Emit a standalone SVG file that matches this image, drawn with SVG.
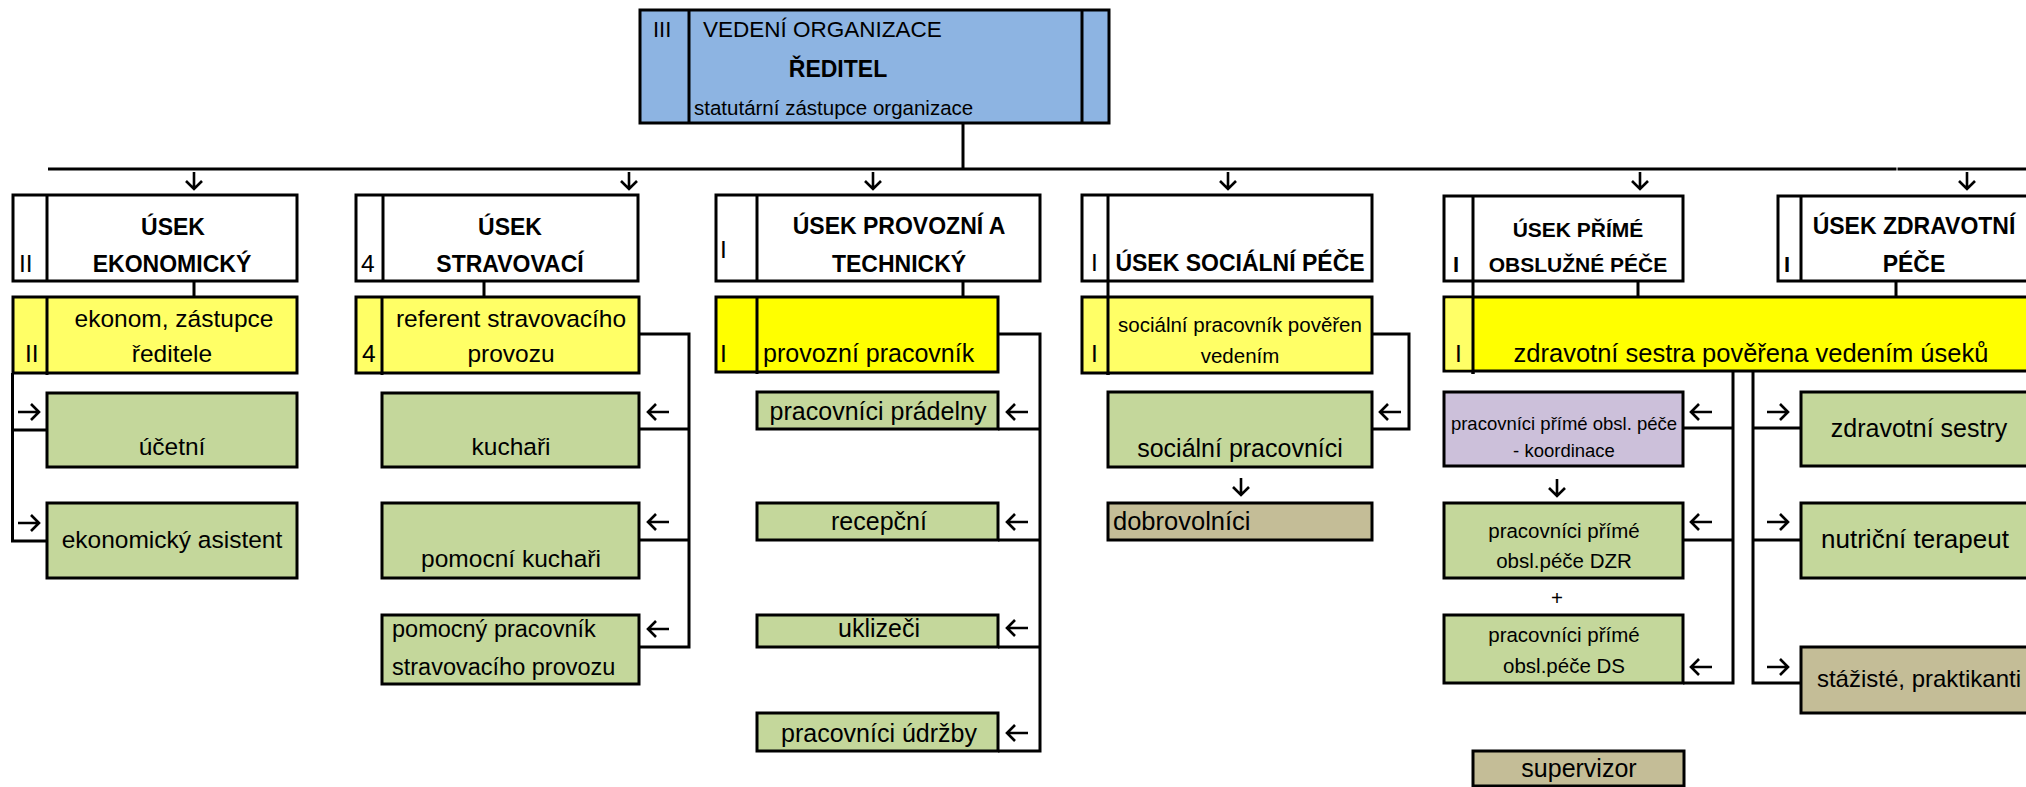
<svg xmlns="http://www.w3.org/2000/svg" xmlns:xlink="http://www.w3.org/1999/xlink" width="2026" height="787" viewBox="0 0 2026 787">
<style>
.bx{stroke:#000;stroke-width:3}
.wh{fill:#fff}.ly{fill:#FFFF66}.by{fill:#FFFF00}.gr{fill:#C4D79B}.pu{fill:#CCC0DA}.tn{fill:#C4BD97}.bl{fill:#8DB4E2}
.ln{stroke:#000;stroke-width:3;fill:none}
text{font-family:"Liberation Sans",Arial,sans-serif;fill:#000}
.t{font-size:24.5px}
.s{font-size:20.5px}
.xs{font-size:18.5px}
.h{font-size:23px;font-weight:bold}
.hs{font-size:21px;font-weight:bold}
.c{text-anchor:middle}
</style>
<defs>
<path id="aR" d="M-11,0 H10 M2,-8 L10,0 L2,8" stroke="#000" stroke-width="2.6" fill="none"/>
<path id="aL" d="M11,0 H-10 M-2,-8 L-10,0 L-2,8" stroke="#000" stroke-width="2.6" fill="none"/>
<path id="aD" d="M0,-9 V8 M-8,0 L0,8 L8,0" stroke="#000" stroke-width="2.6" fill="none"/>
</defs>
<rect width="2026" height="787" fill="#fff"/>

<g id="connectors">
<path class="ln" d="M963,123 V169"/>
<path class="ln" d="M48,169 H1896.5 M1897.5,169 H2026"/>
<path class="ln" d="M194,281 V297 M484,281 V297 M963,281 V297 M1638,281 V297 M1896,281 V297"/>
<path class="ln" d="M12.5,373 V541 H47 M12.5,430 H47"/>
<path class="ln" d="M639,334 H689 V647 H639 M689,429 H639 M689,540 H639"/>
<path class="ln" d="M998,334 H1040 V751 H998 M1040,429 H998 M1040,540 H998 M1040,647 H998"/>
<path class="ln" d="M1372,334 H1409 V429 H1372"/>
<path class="ln" d="M1733,371 V683 H1683 M1733,428 H1683 M1733,540 H1683"/>
<path class="ln" d="M1753,371 V683 H1801 M1753,428 H1801 M1753,540 H1801"/>
<use xlink:href="#aD" x="194" y="181"/>
<use xlink:href="#aD" x="629" y="181"/>
<use xlink:href="#aD" x="873" y="181"/>
<use xlink:href="#aD" x="1228" y="181"/>
<use xlink:href="#aD" x="1640" y="181"/>
<use xlink:href="#aD" x="1967" y="181"/>
<use xlink:href="#aR" x="29" y="412"/>
<use xlink:href="#aR" x="29" y="523"/>
<use xlink:href="#aL" x="658" y="412"/>
<use xlink:href="#aL" x="658" y="522"/>
<use xlink:href="#aL" x="658" y="629"/>
<use xlink:href="#aL" x="1017" y="412"/>
<use xlink:href="#aL" x="1017" y="522"/>
<use xlink:href="#aL" x="1017" y="628"/>
<use xlink:href="#aL" x="1017" y="733"/>
<use xlink:href="#aL" x="1390" y="412"/>
<use xlink:href="#aL" x="1701" y="412"/>
<use xlink:href="#aL" x="1701" y="522"/>
<use xlink:href="#aL" x="1701" y="667"/>
<use xlink:href="#aR" x="1778" y="412"/>
<use xlink:href="#aR" x="1778" y="522"/>
<use xlink:href="#aR" x="1778" y="667"/>
<use xlink:href="#aD" x="1241" y="487"/>
<use xlink:href="#aD" x="1557" y="488"/>
</g>

<g id="reditel">
<rect class="bx bl" x="640" y="10" width="469" height="113"/>
<path class="ln" d="M689,10 V123 M1082,10 V123"/>
<text x="653" y="37" style="font-size:22px">III</text>
<text x="703" y="37" style="font-size:22.5px">VEDENÍ ORGANIZACE</text>
<text class="c" x="838" y="77" style="font-size:23px;font-weight:bold">ŘEDITEL</text>
<text x="694" y="115" style="font-size:20.5px">statutární zástupce organizace</text>
</g>

<g id="usek-ekonomicky">
<rect class="bx wh" x="13" y="195" width="284" height="86"/>
<path class="ln" d="M47,195 V281"/>
<text class="t" x="19" y="272">II</text>
<text class="h c" x="173" y="235">ÚSEK</text>
<text class="h c" x="172" y="272">EKONOMICKÝ</text>
</g>
<g id="ekonom">
<rect class="bx ly" x="13" y="297" width="284" height="76"/>
<path class="ln" d="M47,297 V375"/>
<text class="t" x="25" y="362">II</text>
<text class="t c" x="174" y="327">ekonom, zástupce</text>
<text class="t c" x="172" y="362">ředitele</text>
</g>
<g id="ucetni">
<rect class="bx gr" x="47" y="393" width="250" height="74"/>
<text class="t c" x="172" y="455">účetní</text>
</g>
<g id="ekonomicky-asistent">
<rect class="bx gr" x="47" y="503" width="250" height="75"/>
<text class="t c" x="172" y="548">ekonomický asistent</text>
</g>

<g id="usek-stravovaci">
<rect class="bx wh" x="356" y="195" width="282" height="86"/>
<path class="ln" d="M383,195 V281"/>
<text class="t" x="361" y="272">4</text>
<text class="h c" x="510" y="235">ÚSEK</text>
<text class="h c" x="510" y="272">STRAVOVACÍ</text>
</g>
<g id="referent">
<rect class="bx ly" x="356" y="297" width="283" height="76"/>
<path class="ln" d="M382,297 V375"/>
<text class="t" x="362" y="362">4</text>
<text class="t c" x="511" y="327">referent stravovacího</text>
<text class="t c" x="511" y="362">provozu</text>
</g>
<g id="kuchari">
<rect class="bx gr" x="382" y="393" width="257" height="74"/>
<text class="t c" x="511" y="455">kuchaři</text>
</g>
<g id="pomocni-kuchari">
<rect class="bx gr" x="382" y="503" width="257" height="75"/>
<text class="t c" x="511" y="567">pomocní kuchaři</text>
</g>
<g id="pomocny-pracovnik">
<rect class="bx gr" x="382" y="615" width="257" height="69"/>
<text x="392" y="637" style="font-size:23.5px">pomocný pracovník</text>
<text x="392" y="675" style="font-size:23.5px">stravovacího provozu</text>
</g>

<g id="usek-provozni">
<rect class="bx wh" x="716" y="195" width="324" height="86"/>
<path class="ln" d="M757,195 V281"/>
<text class="t" x="720" y="258">I</text>
<text class="h c" x="899" y="234">ÚSEK PROVOZNÍ A</text>
<text class="h c" x="899" y="272">TECHNICKÝ</text>
</g>
<g id="provozni-pracovnik">
<rect class="bx by" x="716" y="297" width="282" height="75"/>
<path class="ln" d="M757,297 V374"/>
<text class="t" x="720" y="362">I</text>
<text x="763" y="362" style="font-size:25px">provozní pracovník</text>
</g>
<g id="pradelna">
<rect class="bx gr" x="757" y="392" width="241" height="37"/>
<text class="c" x="878" y="420" style="font-size:25px">pracovníci prádelny</text>
</g>
<g id="recepcni">
<rect class="bx gr" x="757" y="503" width="241" height="37"/>
<text class="c" x="879" y="530" style="font-size:25px">recepční</text>
</g>
<g id="uklizeci">
<rect class="bx gr" x="757" y="615" width="241" height="32"/>
<text class="c" x="879" y="637" style="font-size:25px">uklizeči</text>
</g>
<g id="udrzba">
<rect class="bx gr" x="757" y="713" width="241" height="38"/>
<text class="c" x="879" y="742" style="font-size:25px">pracovníci údržby</text>
</g>

<g id="usek-socialni">
<rect class="bx wh" x="1082" y="195" width="290" height="86"/>
<path class="ln" d="M1108,195 V375"/>
<text class="t" x="1091" y="271">I</text>
<text class="h c" x="1240" y="271">ÚSEK SOCIÁLNÍ PÉČE</text>
</g>
<g id="socialni-vedouci">
<rect class="bx ly" x="1082" y="297" width="290" height="76"/>
<path class="ln" d="M1108,297 V375"/>
<text class="t" x="1091" y="362">I</text>
<text class="s c" x="1240" y="332">sociální pracovník pověřen</text>
<text class="s c" x="1240" y="363">vedením</text>
</g>
<g id="socialni-pracovnici">
<rect class="bx gr" x="1108" y="392" width="264" height="75"/>
<text class="c" x="1240" y="457" style="font-size:25px">sociální pracovníci</text>
</g>
<g id="dobrovolnici">
<rect class="bx tn" x="1108" y="503" width="264" height="37"/>
<text x="1113" y="530" style="font-size:25.5px">dobrovolníci</text>
</g>

<g id="usek-prime-pece">
<rect class="bx wh" x="1444" y="196" width="239" height="85"/>
<path class="ln" d="M1473,196 V374"/>
<text x="1453" y="272" style="font-size:22px;font-weight:bold">I</text>
<text class="hs c" x="1578" y="237">ÚSEK PŘÍMÉ</text>
<text class="hs c" x="1578" y="272">OBSLUŽNÉ PÉČE</text>
</g>
<g id="usek-zdravotni">
<rect class="bx wh" x="1778" y="196" width="260" height="85"/>
<path class="ln" d="M1801,196 V281"/>
<text x="1784" y="272" style="font-size:22px;font-weight:bold">I</text>
<text class="c" x="1914" y="234" style="font-size:23px;font-weight:bold">ÚSEK ZDRAVOTNÍ</text>
<text class="c" x="1914" y="272" style="font-size:23px;font-weight:bold">PÉČE</text>
</g>
<g id="zdravotni-sestra-vedouci">
<rect class="bx by" x="1444" y="297" width="600" height="74"/>
<rect class="ly" x="1445.5" y="298.5" width="27.5" height="71"/>
<path class="ln" d="M1473,297 V374"/>
<text class="t" x="1455" y="362">I</text>
<text class="c" x="1751" y="362" style="font-size:25.5px">zdravotní sestra pověřena vedením úseků</text>
</g>
<g id="koordinace">
<rect class="bx pu" x="1444" y="392" width="239" height="74"/>
<text class="xs c" x="1564" y="430">pracovníci přímé obsl. péče</text>
<text class="xs c" x="1564" y="457">- koordinace</text>
</g>
<g id="dzr">
<rect class="bx gr" x="1444" y="503" width="239" height="75"/>
<text class="s c" x="1564" y="538">pracovníci přímé</text>
<text class="s c" x="1564" y="568">obsl.péče DZR</text>
</g>
<text class="s c" x="1557" y="605">+</text>
<g id="ds">
<rect class="bx gr" x="1444" y="615" width="239" height="68"/>
<text class="s c" x="1564" y="642">pracovníci přímé</text>
<text class="s c" x="1564" y="673">obsl.péče DS</text>
</g>
<g id="supervizor">
<rect class="bx tn" x="1473" y="751" width="211" height="35"/>
<text class="c" x="1579" y="777" style="font-size:25px">supervizor</text>
</g>
<g id="zdravotni-sestry">
<rect class="bx gr" x="1801" y="392" width="240" height="74"/>
<text class="c" x="1919" y="437" style="font-size:25px">zdravotní sestry</text>
</g>
<g id="nutricni-terapeut">
<rect class="bx gr" x="1801" y="503" width="240" height="75"/>
<text class="c" x="1915" y="548" style="font-size:26px">nutriční terapeut</text>
</g>
<g id="stazisti">
<rect class="bx tn" x="1801" y="647" width="240" height="66"/>
<text class="c" x="1919" y="687" style="font-size:24px">stážisté, praktikanti</text>
</g>
</svg>
